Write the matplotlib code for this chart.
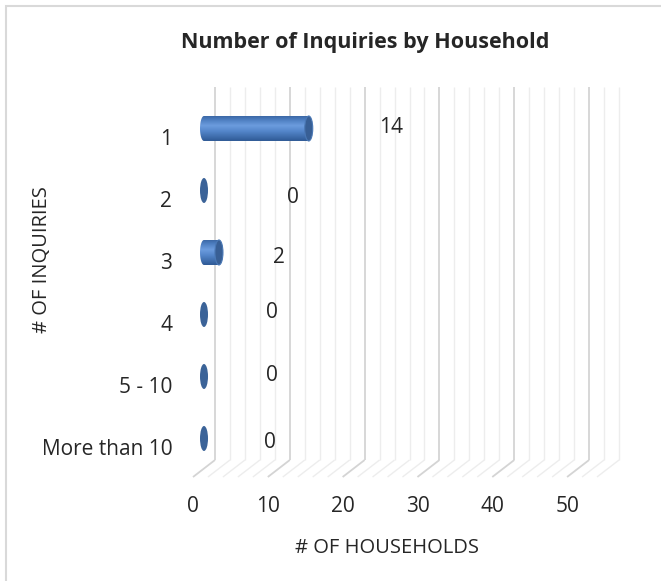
import matplotlib
matplotlib.use('Agg')
import matplotlib.pyplot as plt
import numpy as np
from matplotlib.patches import Ellipse, Rectangle, PathPatch
from matplotlib.path import Path

# chart data
categories = ['1', '2', '3', '4', '5 - 10', 'More than 10']
households = [14, 0, 2, 0, 0, 0]
x_tick_values = [0, 10, 20, 30, 40, 50]
x_max = 54
minor_step = 2

# data label offsets from the front of each bar, in pixels (Excel 3D placement)
label_offsets = [(93, -9), (100, -1), (71, -3), (79, -10), (79, -9), (77, -4)]

plt.rcParams['font.family'] = ['Open Sans', 'DejaVu Sans']
TEXT = '#262626'

W, H = 661, 581
fig = plt.figure(figsize=(W / 100, H / 100), dpi=100)

# front plane of the 3D plot area
left_px, right_px, top_px, bottom_px = 193, 597, 104, 477
ax = fig.add_axes([left_px / W, (H - bottom_px) / H,
                   (right_px - left_px) / W, (bottom_px - top_px) / H])
y_top, y_bot = -0.532, 5.484
ax.set_xlim(0, x_max)
ax.set_ylim(y_bot, y_top)

px_x = (right_px - left_px) / x_max
px_y = (bottom_px - top_px) / (y_bot - y_top)
depth_x = 22 / px_x
depth_y = 17 / px_y

# back wall and floor gridlines
for v in np.arange(0, x_max + 1, minor_step):
    major = v % 10 == 0
    col = '#d4d4d4' if major else '#ededed'
    lw = 1.3 if major else 1.0
    ax.plot([v + depth_x, v + depth_x], [y_top - depth_y, y_bot - depth_y],
            color=col, lw=lw, zorder=1, clip_on=False, solid_capstyle='butt')
    ax.plot([v, v + depth_x], [y_bot, y_bot - depth_y],
            color=col, lw=lw, zorder=1, clip_on=False, solid_capstyle='butt')

# cylinder bars
stops = np.array([
    [0.00, 0x3c, 0x68, 0xa6],
    [0.12, 0x4a, 0x7b, 0xbd],
    [0.38, 0x6c, 0x9c, 0xde],
    [0.60, 0x55, 0x87, 0xcb],
    [1.00, 0x2e, 0x5a, 0x96],
])
tt = np.linspace(0, 1, 64)
grad = np.stack([np.interp(tt, stops[:, 0], stops[:, k]) for k in (1, 2, 3)], axis=1) / 255
grad = grad[:, None, :]

a = 4 / px_x
h = 12.5 / px_y
for i, v in enumerate(households):
    yc = i - depth_y / 2
    x0 = depth_x / 2
    x1 = v + depth_x / 2
    if v > 0:
        t = np.linspace(np.pi / 2, 3 * np.pi / 2, 40)
        verts = list(zip(x0 + a * np.cos(t), yc - h * np.sin(t)))
        verts += [(x1, yc + h), (x1, yc - h), (x0, yc - h)]
        codes = [Path.MOVETO] + [Path.LINETO] * (len(verts) - 2) + [Path.CLOSEPOLY]
        body = PathPatch(Path(verts, codes), facecolor='none', edgecolor='none',
                         transform=ax.transData)
        ax.add_patch(body)
        im = ax.imshow(grad, extent=(x0 - a, x1, yc + h, yc - h), aspect='auto',
                       interpolation='bilinear', zorder=3, origin='upper')
        im.set_clip_path(body)
        ax.add_patch(Ellipse((x1, yc), 2 * a, 2 * h, facecolor='#385f95',
                             edgecolor='#4a78b5', lw=0.8, zorder=4))
    else:
        ax.add_patch(Ellipse((x0, yc), 2 * a, 2 * h, facecolor='#3b6398',
                             edgecolor='none', zorder=4))

ax.set_xlim(0, x_max)
ax.set_ylim(y_bot, y_top)

# data labels
for i, v in enumerate(households):
    ox, oy = label_offsets[i]
    ax.annotate(str(v), (v, i), xytext=(ox * 0.72, -oy * 0.72), textcoords='offset points',
                ha='center', va='center', fontsize=15, color=TEXT)

ax.set_xticks(x_tick_values)
ax.set_xticklabels([str(v) for v in x_tick_values])
ax.set_yticks(range(len(categories)))
ax.set_yticklabels(categories)
ax.tick_params(axis='x', length=0, pad=14, labelsize=15, labelcolor=TEXT)
ax.tick_params(axis='y', length=0, pad=15, labelsize=15, labelcolor=TEXT)
for s in ax.spines.values():
    s.set_visible(False)
ax.patch.set_alpha(0)

fig.text(365 / W, 1 - 48 / H, 'Number of Inquiries by Household', ha='center',
         va='baseline', fontsize=15.5, fontweight='bold', color=TEXT)
fig.text(387 / W, 1 - 553 / H, '# OF HOUSEHOLDS', ha='center', va='baseline',
         fontsize=14.5, color=TEXT)
fig.text(42 / W, 1 - 260 / H, '# OF INQUIRIES', ha='center', va='center',
         rotation=90, fontsize=14.5, color=TEXT)

# chart border
fig.patches.append(Rectangle((6 / W, -0.1), 1.2, 1 - 6 / H + 0.1, transform=fig.transFigure,
                             fill=False, edgecolor='#d9d9d9', lw=1.5))

fig.savefig('out.png', dpi=100)
